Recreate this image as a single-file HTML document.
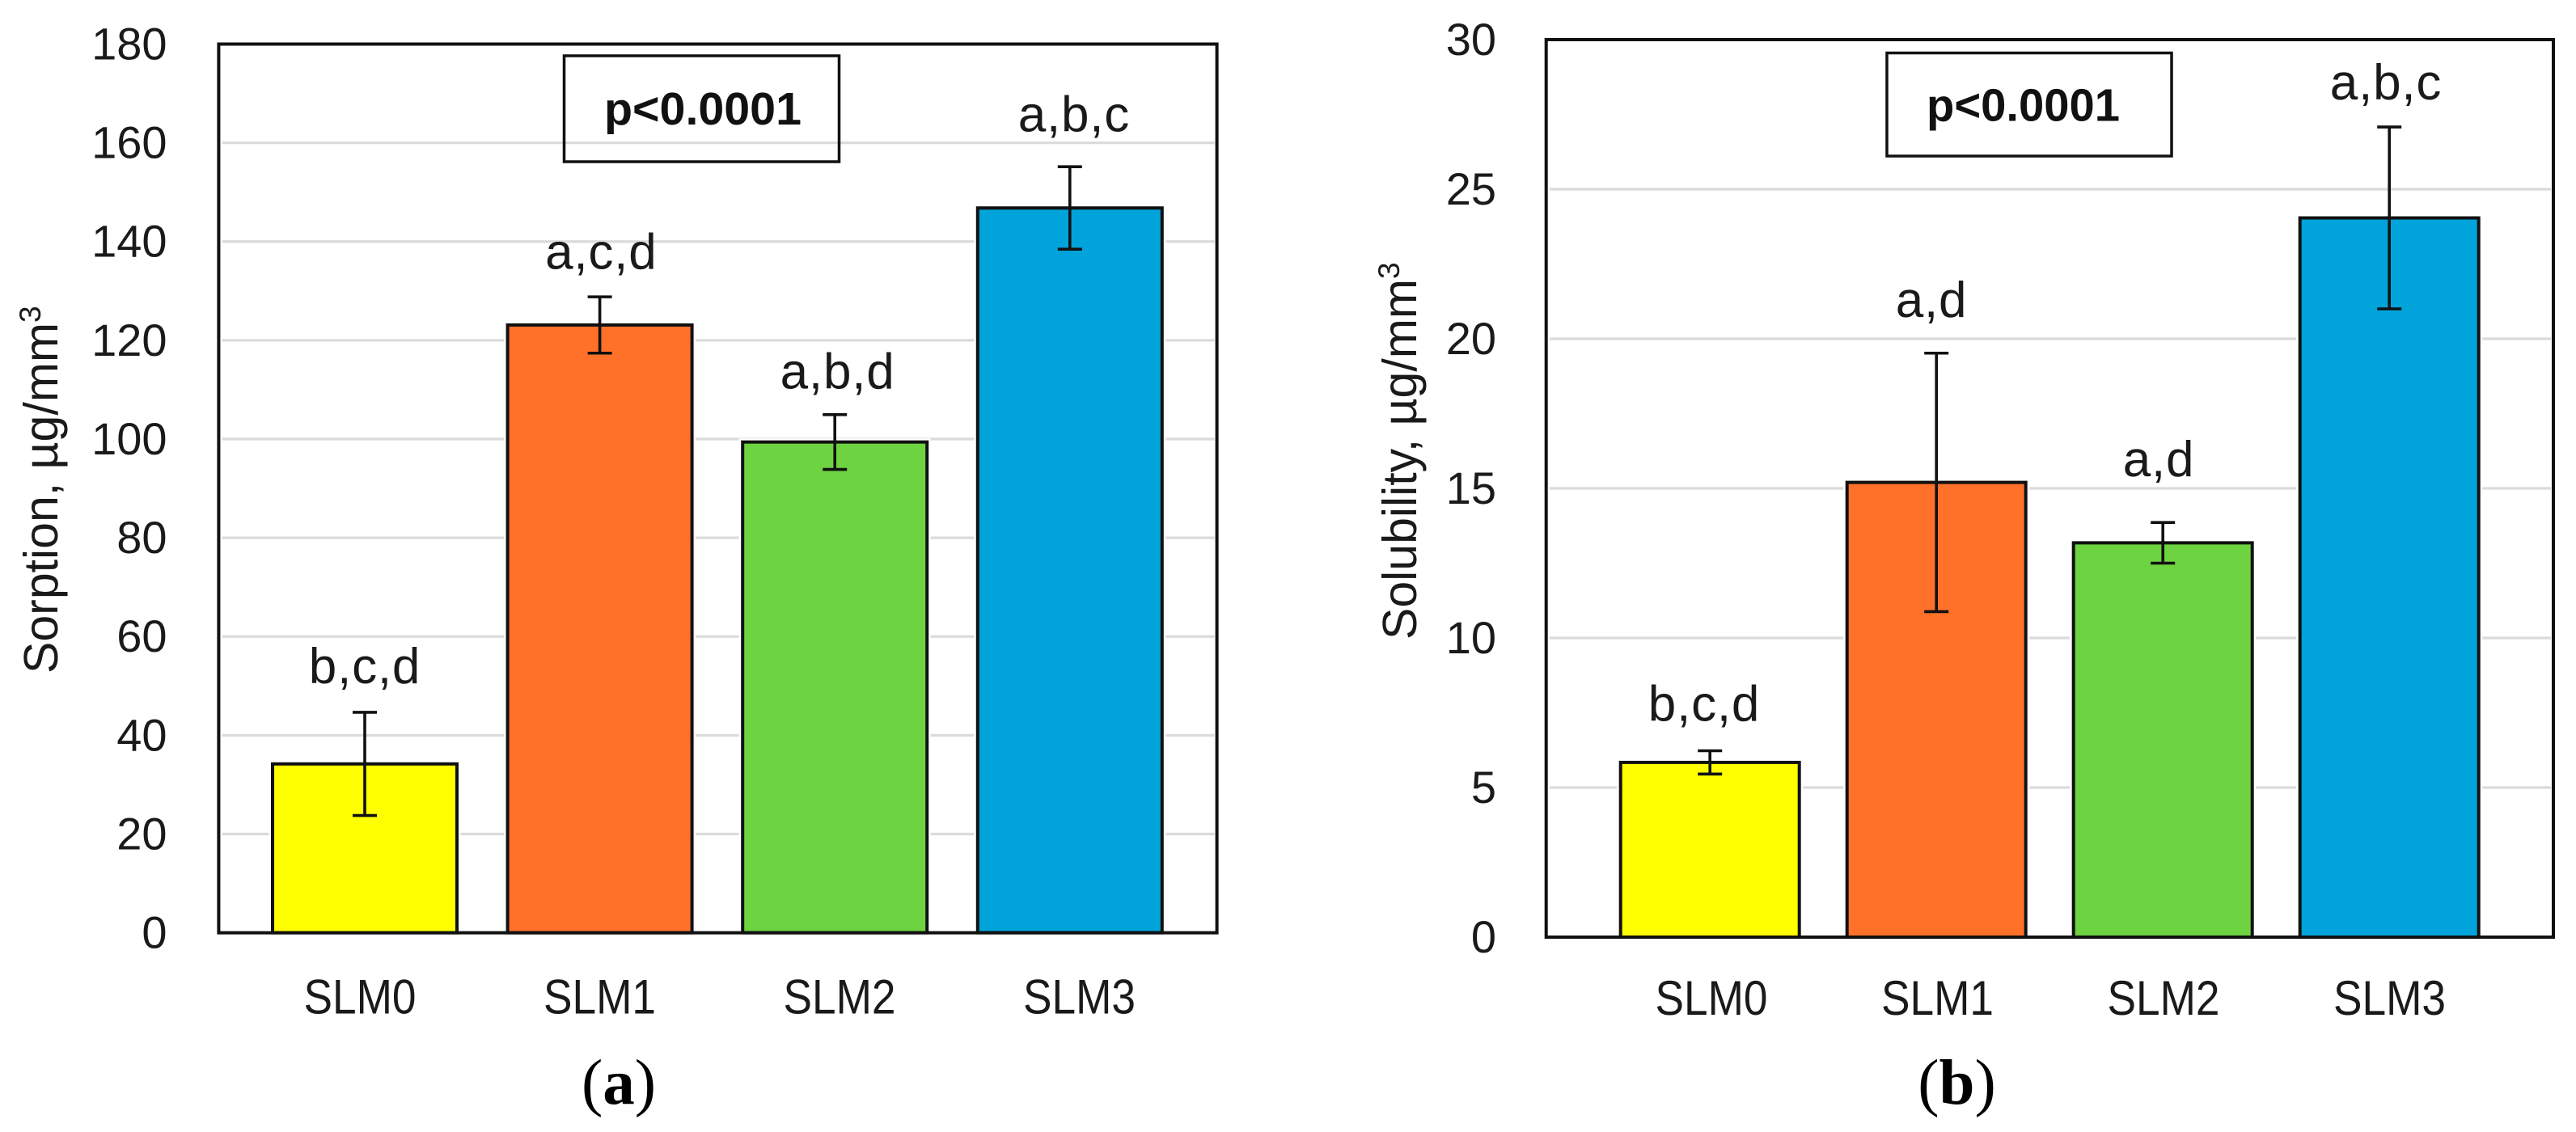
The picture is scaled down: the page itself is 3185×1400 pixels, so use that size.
<!DOCTYPE html>
<html lang="en">
<head>
<meta charset="utf-8">
<title>Sorption and solubility of SLM groups</title>
<style>
html,body{margin:0;padding:0;background:#fff;width:3185px;height:1400px;overflow:hidden}
svg{display:block}
text{font-family:"Liberation Sans",sans-serif;fill:#1a1a1a}
.caption{font-family:"Liberation Serif",serif;font-size:79px;fill:#000}
.ptext{font-weight:bold;font-size:57px;fill:#111}
.title{font-size:59px}
</style>
</head>
<body>
<svg id="figure" xmlns="http://www.w3.org/2000/svg" width="3185" height="1400" viewBox="0 0 3185 1400">
  <rect x="0" y="0" width="3185" height="1400" fill="#ffffff"/>
  <g id="chart-a"></g>
  <g id="chart-b"></g>

  <text class="title" transform="translate(71,833) rotate(-90)">Sorption, µg/mm<tspan dy="-21" font-size="37">3</tspan></text>
  <text class="title" transform="translate(1751,791) rotate(-90)">Solubility, µg/mm<tspan dy="-21" font-size="37">3</tspan></text>

  <g>
    <rect x="697.5" y="69" width="340" height="131" fill="none" stroke="#111" stroke-width="3.5"/>
    <text class="ptext" x="747" y="154" textLength="244" lengthAdjust="spacingAndGlyphs">p&lt;0.0001</text>
  </g>
  <g>
    <rect x="2333" y="65.5" width="352" height="127.5" fill="none" stroke="#111" stroke-width="3.5"/>
    <text class="ptext" x="2382" y="149.5" textLength="239" lengthAdjust="spacingAndGlyphs">p&lt;0.0001</text>
  </g>

  <text class="caption" x="765" y="1365" text-anchor="middle">(<tspan font-weight="bold">a</tspan>)</text>
  <text class="caption" x="2419.5" y="1365" text-anchor="middle">(<tspan font-weight="bold">b</tspan>)</text>
</svg>
<script>
const categories = ["SLM0", "SLM1", "SLM2", "SLM3"];
const barColors = ["#FFFF00", "#FF7028", "#6DD340", "#00A3DA"];

const sorptionTicks = [0, 20, 40, 60, 80, 100, 120, 140, 160, 180];
const sorptionValues = [34.2, 123.1, 99.4, 146.8];
const sorptionErrors = [10.45, 5.7, 5.55, 8.35];
const sorptionLetters = ["b,c,d", "a,c,d", "a,b,d", "a,b,c"];
const sorptionLetterLift = [5.9, 5.65, 5.3, 7.2];

const solubilityTicks = [0, 5, 10, 15, 20, 25, 30];
const solubilityValues = [5.84, 15.2, 13.18, 24.04];
const solubilityErrors = [0.39, 4.32, 0.68, 3.04];
const solubilityLetters = ["b,c,d", "a,d", "a,d", "a,b,c"];
const solubilityLetterLift = [1.0, 1.21, 1.54, 0.92];

const SVGNS = "http://www.w3.org/2000/svg";

function make(parent, tag, attrs, text) {
  const el = document.createElementNS(SVGNS, tag);
  for (const k in attrs) el.setAttribute(k, attrs[k]);
  if (text !== undefined) el.textContent = text;
  parent.appendChild(el);
  return el;
}

function drawChart(root, prefix, frame, ticks, values, errors, letters, lift) {
  const yMax = ticks[ticks.length - 1];
  const yScale = function (v) { return frame.bottom - (v / yMax) * (frame.bottom - frame.top); };
  const barX = function (i) { return frame.barStart + i * frame.barStep; };
  const labelX = function (i) { return frame.labelStart + i * frame.labelStep; };
  const letterX = function (i) { return frame.letterStart + i * frame.letterStep; };

  ticks.forEach(function (t) {
    if (t !== 0 && t !== yMax) {
      const grid = make(root, "line", {
        x1: frame.left + 4, x2: frame.right - 3, y1: yScale(t), y2: yScale(t),
        stroke: "#DBDBDB", "stroke-width": 3.2
      });
      
      
    }
    const label = make(root, "text", {
      x: frame.tickRight, y: yScale(t) + 19, "text-anchor": "end", "font-size": 56
    }, String(t));
    
    
  });

  categories.forEach(function (cat, i) {
    const cx = barX(i);
    const top = yScale(values[i]);
    const halo = make(root, "rect", {
      x: cx - frame.barWidth / 2, y: top, width: frame.barWidth, height: frame.bottom - top,
      fill: "#ffffff", stroke: "#ffffff", "stroke-width": 9
    });
    
    

    const bar = make(root, "rect", {
      x: cx - frame.barWidth / 2, y: top, width: frame.barWidth, height: frame.bottom - top,
      fill: barColors[i], stroke: "#111", "stroke-width": 4
    });
    
    

    const upper = yScale(values[i] + errors[i]);
    const lower = yScale(values[i] - errors[i]);
    const stem = make(root, "line", { x1: cx, x2: cx, y1: upper, y2: lower, stroke: "#111", "stroke-width": 3.6 });
    
    

    const capTop = make(root, "line", { x1: cx - 15, x2: cx + 15, y1: upper, y2: upper, stroke: "#111", "stroke-width": 3.6 });
    
    

    const capBottom = make(root, "line", { x1: cx - 15, x2: cx + 15, y1: lower, y2: lower, stroke: "#111", "stroke-width": 3.6 });
    
    

    const letter = make(root, "text", {
      x: letterX(i), y: yScale(values[i] + errors[i] + lift[i]),
      "text-anchor": "middle", "font-size": 62, "letter-spacing": 0.8
    }, letters[i]);
    
    

    const xLabel = make(root, "text", {
      x: labelX(i), y: frame.labelBaseline, "text-anchor": "middle", "font-size": 60,
      textLength: 139, lengthAdjust: "spacingAndGlyphs"
    }, cat);
    
    
  });

  const border = make(root, "rect", {
    x: frame.left, y: frame.top, width: frame.right - frame.left, height: frame.bottom - frame.top,
    fill: "none", stroke: "#111", "stroke-width": 4
  });
  
  
}

drawChart(document.getElementById("chart-a"), "sorption", {
  left: 270.4, right: 1504.6, top: 54.5, bottom: 1153.6,
  barStart: 451, barStep: 290.6, barWidth: 228,
  labelStart: 445, labelStep: 296.5, labelBaseline: 1253.5,
  letterStart: 451, letterStep: 292.3, tickRight: 206.5
}, sorptionTicks, sorptionValues, sorptionErrors, sorptionLetters, sorptionLetterLift);

drawChart(document.getElementById("chart-b"), "solubility", {
  left: 1911.7, right: 3157, top: 49, bottom: 1159,
  barStart: 2114.2, barStep: 280, barWidth: 221,
  labelStart: 2116, labelStep: 279.5, labelBaseline: 1255,
  letterStart: 2107, letterStep: 281, tickRight: 1850
}, solubilityTicks, solubilityValues, solubilityErrors, solubilityLetters, solubilityLetterLift);
</script>
</body>
</html>
